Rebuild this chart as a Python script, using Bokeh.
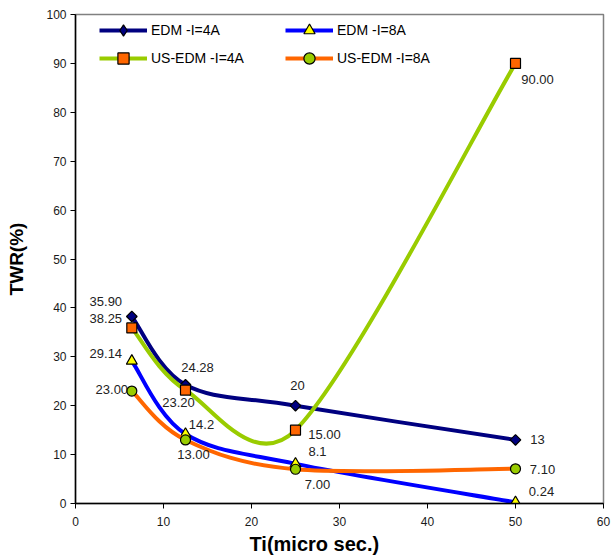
import numpy as np
from bokeh.plotting import figure
from bokeh.models import ColumnDataSource, Legend, LegendItem, Title, FixedTicker
from bokeh.core.properties import value
from bokeh.embed import file_html
from bokeh.resources import INLINE

# ---- data ----
ti = [6.4, 12.5, 25, 50]
edm_4a = [38.25, 24.28, 20, 13]
edm_8a = [29.14, 14.2, 8.1, 0.24]
us_edm_4a = [35.9, 23.2, 15.0, 90.0]
us_edm_8a = [23.0, 13.0, 7.0, 7.1]

edm_4a_labels = ["38.25", "24.28", "20", "13"]
edm_8a_labels = ["29.14", "14.2", "8.1", "0.24"]
us_edm_4a_labels = ["35.90", "23.20", "15.00", "90.00"]
us_edm_8a_labels = ["23.00", "13.00", "7.00", "7.10"]

series_names = ["EDM -I=4A", "EDM -I=8A", "US-EDM -I=4A", "US-EDM -I=8A"]
x_ticks = [0, 10, 20, 30, 40, 50, 60]
y_ticks = [0, 10, 20, 30, 40, 50, 60, 70, 80, 90, 100]

# ---- styles (label offsets in px, screen y down) ----
styles = [
    dict(line="#000080", fill="#000080", marker="square", angle=np.pi / 4, size=7.5,
         legend_marker="diamond",
         offs=[(-26, 2), (12, -17), (2, -20), (22, 0)]),
    dict(line="#0000FF", fill="#FFFF00", marker="triangle", angle=0, size=11,
         legend_marker=None,
         offs=[(-26, -8), (16, -10), (22, -12), (26, -11)]),
    dict(line="#99CC00", fill="#FF6600", marker="square", angle=0, size=10,
         legend_marker=None,
         offs=[(-26, -26), (-7, 12), (29, 4), (22, 16)]),
    dict(line="#FF6600", fill="#99CC00", marker="circle", angle=0, size=10,
         legend_marker=None,
         offs=[(-20, -2), (8, 15), (22, 15), (27, 1)]),
]
values = [edm_4a, edm_8a, us_edm_4a, us_edm_8a]
labels = [edm_4a_labels, edm_8a_labels, us_edm_4a_labels, us_edm_8a_labels]

FONT = "Liberation Sans"
W, H = 611, 559
BL, BR, BT, BB = 75, 8, 14, 56
X_RANGE, Y_RANGE = (0, 60), (0, 100)

p = figure(width=W, height=H, x_range=X_RANGE, y_range=Y_RANGE,
           output_backend="svg", toolbar_location=None,
           min_border_left=BL, min_border_right=BR, min_border_top=BT, min_border_bottom=BB)
p.xgrid.visible = False
p.ygrid.visible = False
p.outline_line_color = "#808080"
p.outline_line_width = 1.5
p.background_fill_color = "white"
p.border_fill_color = "white"

for ax, ticks in ((p.xaxis, x_ticks), (p.yaxis, y_ticks)):
    ax.ticker = FixedTicker(ticks=ticks)
    ax.minor_tick_line_color = None
    ax.major_tick_in = 0
    ax.major_tick_out = 5
    ax.axis_line_color = "black"
    ax.axis_line_width = 1.5
    ax.major_tick_line_color = "black"
    ax.major_tick_line_width = 1
    ax.major_label_text_font = FONT
    ax.major_label_text_font_size = "12px"
    ax.major_label_text_color = "#1a1a1a"
p.xaxis.major_label_standoff = 8
p.yaxis.major_label_standoff = 4

p.yaxis.axis_label = "TWR(%)"
p.yaxis.axis_label_text_font = FONT
p.yaxis.axis_label_text_font_size = "19px"
p.yaxis.axis_label_text_font_style = "bold"
p.yaxis.axis_label_text_color = "black"
p.yaxis.axis_label_standoff = 16

p.add_layout(Title(text="Ti(micro sec.)", align="left", offset=174, standoff=4,
                   text_font=FONT, text_font_size="20px", text_font_style="bold",
                   text_color="black"), "below")

# Excel-like smoothed line: Bezier control points computed in screen space
sxu = (W - BL - BR) / (X_RANGE[1] - X_RANGE[0])
syu = (H - BT - BB) / (Y_RANGE[1] - Y_RANGE[0])


def excel_bezier(xs, ys):
    n = len(xs)
    P = [np.array([x * sxu, y * syu]) for x, y in zip(xs, ys)]
    out = {k: [] for k in ("x0", "y0", "x1", "y1", "cx0", "cy0", "cx1", "cy1")}
    for i in range(n - 1):
        pm = P[i - 1] if i > 0 else P[i]
        pa, pb = P[i], P[i + 1]
        pp = P[i + 2] if i + 2 < n else P[i + 1]
        seg = np.linalg.norm(pb - pa)
        a1 = (pb - pm) / 6.0
        a2 = (pp - pa) / 6.0
        for a in (a1, a2):
            L = np.linalg.norm(a)
            if L > 0.5 * seg:
                a *= 0.5 * seg / L
        c0 = pa + a1
        c1 = pb - a2
        out["x0"].append(pa[0] / sxu); out["y0"].append(pa[1] / syu)
        out["x1"].append(pb[0] / sxu); out["y1"].append(pb[1] / syu)
        out["cx0"].append(c0[0] / sxu); out["cy0"].append(c0[1] / syu)
        out["cx1"].append(c1[0] / sxu); out["cy1"].append(c1[1] / syu)
    return out


items = {}
for name, vals, labs, st in zip(series_names, values, labels, styles):
    bz = p.bezier(source=ColumnDataSource(excel_bezier(ti, vals)),
                  x0="x0", y0="y0", x1="x1", y1="y1", cx0="cx0", cy0="cy0", cx1="cx1", cy1="cy1",
                  line_color=st["line"], line_width=4)
    sc = p.scatter(ti, vals, marker=st["marker"], angle=st["angle"], size=st["size"],
                   fill_color=st["fill"], line_color="black", line_width=1.2)
    leg_r = sc
    if st["legend_marker"]:
        leg_r = p.scatter(ti, vals, marker=st["legend_marker"], size=12,
                          fill_color=st["fill"], line_color="black", line_width=1.2,
                          visible=False)
    items[name] = LegendItem(label=name, renderers=[bz, leg_r])
    src = ColumnDataSource(dict(x=ti, y=vals, t=labs,
                                dx=[o[0] for o in st["offs"]], dy=[o[1] for o in st["offs"]]))
    p.text(x="x", y="y", text="t", x_offset="dx", y_offset="dy", source=src,
           text_font=value(FONT), text_font_size="13px", text_color="#222222",
           text_align="center", text_baseline="middle")

legend_order = [series_names[0], series_names[2], series_names[1], series_names[3]]
legend = Legend(items=[items[n] for n in legend_order], location=(24, 431), ncols=2,
                orientation="vertical",
                glyph_width=48, glyph_height=28, label_width=134, label_height=28,
                label_standoff=4, spacing=-5, padding=0, margin=0,
                border_line_alpha=0, background_fill_alpha=0,
                label_text_font=FONT, label_text_font_size="14px", label_text_color="black")
p.add_layout(legend)

open("out.html", "w").write(file_html(p, INLINE))
